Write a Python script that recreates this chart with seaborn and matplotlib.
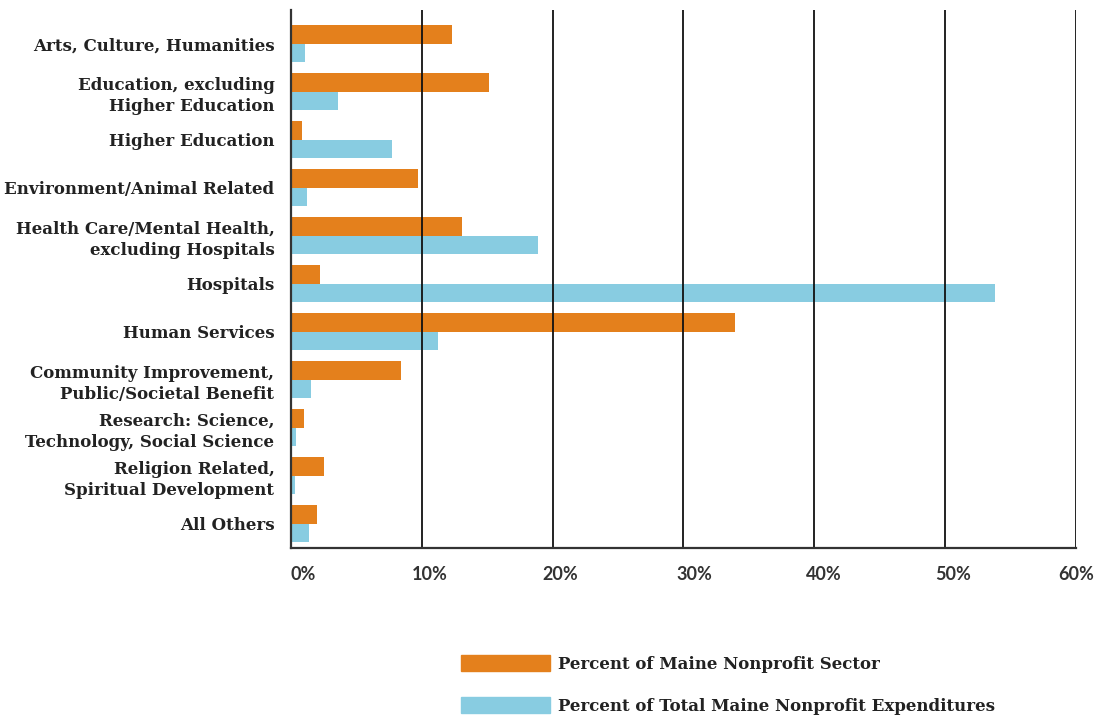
import numpy as np
import pandas as pd
import matplotlib
matplotlib.use('Agg')
import matplotlib.pyplot as plt
import matplotlib.transforms as mtransforms
import seaborn as sns

# Data
categories = ['Arts, Culture, Humanities',
              'Education, excluding\nHigher Education',
              'Higher Education',
              'Environment/Animal Related',
              'Health Care/Mental Health,\nexcluding Hospitals',
              'Hospitals',
              'Human Services',
              'Community Improvement,\nPublic/Societal Benefit',
              'Research: Science,\nTechnology, Social Science',
              'Religion Related,\nSpiritual Development',
              'All Others']
sector_pct = [12.3, 15.1, 0.8, 9.7, 13.1, 2.2, 33.9, 8.4, 1.0, 2.5, 2.0]
expend_pct = [1.1, 3.6, 7.7, 1.2, 18.9, 53.8, 11.2, 1.5, 0.4, 0.3, 1.4]
series_names = ['Percent of Maine Nonprofit Sector',
                'Percent of Total Maine Nonprofit Expenditures']
colors = ['#E4801C', '#88CCE1']
xticks = [0, 10, 20, 30, 40, 50, 60]

df = pd.DataFrame({
    'Category': categories * 2,
    'Value': sector_pct + expend_pct,
    'Series': [series_names[0]] * len(categories) + [series_names[1]] * len(categories),
})

sns.set_style('white')
serif = 'DejaVu Serif'

fig = plt.figure(figsize=(10.95, 7.17), dpi=100)
ax = fig.add_axes([0.2658, 0.2357, 0.7168, 0.7503])

sns.barplot(data=df, y='Category', x='Value', hue='Series', orient='h',
            palette=colors, width=0.77, saturation=1, linewidth=0,
            ax=ax, legend=False)

ax.set_xlim(0, 60)
ax.set_ylim(10.5, -0.7)
ax.set_xticks(xticks)
ax.set_yticks(range(len(categories)))
ax.set_xlabel('')
ax.set_ylabel('')
ax.tick_params(axis='x', length=0, pad=13)
ax.tick_params(axis='y', length=0, pad=12)
ax.set_xticklabels([f'{t}%' for t in xticks], fontsize=13, fontweight='bold',
                   color='#333333', family='Lato')
ax.set_yticklabels(categories, fontsize=12, fontweight='bold', color='#222222',
                   family=serif, linespacing=1.3)

# labels sit a little right of the gridlines in the original (pixels)
label_shift_px = [12, 8, 8, 11, 10, 8, 0]
for lab, px in zip(ax.get_xticklabels(), label_shift_px):
    shift = mtransforms.ScaledTranslation(px / 100, 0, fig.dpi_scale_trans)
    lab.set_transform(lab.get_transform() + shift)

ax.grid(axis='x', color='#111111', linewidth=1.3)
ax.grid(axis='y', visible=False)
ax.set_axisbelow(False)
for s in ['top', 'right']:
    ax.spines[s].set_visible(False)
for s in ['left', 'bottom']:
    ax.spines[s].set_color('#333333')
    ax.spines[s].set_linewidth(1.6)
    ax.spines[s].set_zorder(3)

# legend below the chart
handles = [plt.Rectangle((0, 0), 1, 1, color=c) for c in colors]
leg = fig.legend(handles, series_names, loc='upper left',
                 bbox_to_anchor=(0.421, 0.087), frameon=False,
                 prop={'family': serif, 'weight': 'bold', 'size': 12},
                 handlelength=5.35, handleheight=1.15, handletextpad=0.45,
                 labelspacing=1.45, borderpad=0, borderaxespad=0)
for t in leg.get_texts():
    t.set_color('#222222')

fig.savefig('out.png', dpi=100)
